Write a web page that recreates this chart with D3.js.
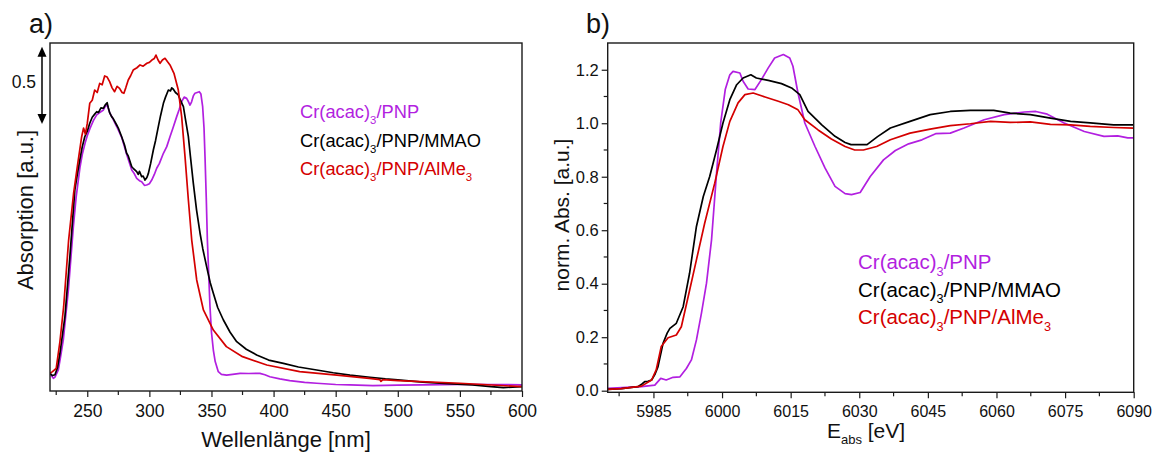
<!DOCTYPE html>
<html><head><meta charset="utf-8">
<script src="https://cdn.jsdelivr.net/npm/d3@7"></script>
<style>
html,body{margin:0;padding:0;background:#fff;}
svg text{font-family:"Liberation Sans",Arial,sans-serif;}
</style></head>
<body><svg id="c" width="1153" height="452"></svg>
<script>
// ---------- Panel a: UV-Vis ----------
const uvXTicks = [250,300,350,400,450,500,550,600];
const uvPNP = [[220,0.114],[221.5,0.095],[222.7,0.082],[224,0.09],[226.7,0.136],[228.5,0.22],[230.7,0.33],[234.8,0.653],[238.8,1.062],[241,1.25],[244.2,1.450],[246,1.53],[248.2,1.601],[250,1.65],[252.2,1.698],[255,1.75],[257.6,1.785],[260,1.80],[263,1.817],[264.5,1.84],[266,1.85],[268,1.80],[270,1.77],[273.7,1.71],[277.7,1.64],[281.7,1.53],[285.8,1.429],[287.5,1.41],[289.8,1.375],[292,1.36],[293.8,1.353],[296,1.33],[297.8,1.332],[300,1.34],[301.9,1.364],[304,1.40],[305.9,1.440],[308,1.47],[311.3,1.537],[314,1.58],[316.6,1.644],[319,1.70],[322,1.774],[324,1.82],[326,1.871],[328,1.90],[330,1.892],[331.5,1.87],[332.7,1.849],[334,1.87],[335.5,1.91],[336.7,1.925],[338.5,1.93],[340.2,1.935],[341.5,1.92],[342.9,1.838],[344,1.70],[344.8,1.515],[345.8,1.25],[346.7,0.976],[347.8,0.75],[348.8,0.545],[350,0.38],[351.5,0.265],[353,0.19],[355.5,0.125],[358,0.108],[362.2,0.103],[367,0.108],[373,0.114],[380,0.113],[389,0.114],[393,0.105],[397,0.092],[405,0.078],[413,0.067],[425,0.056],[434.7,0.050],[450,0.042],[461.5,0.039],[480,0.035],[500,0.038],[520,0.040],[550,0.043],[575,0.042],[600,0.040]];
const uvMMAO = [[220,0.114],[222,0.10],[224,0.105],[226,0.15],[228,0.244],[232,0.48],[236,0.868],[240,1.30],[242,1.40],[244,1.494],[246,1.58],[248,1.644],[250,1.68],[252,1.731],[254,1.77],[256,1.79],[257.6,1.806],[259,1.80],[261,1.83],[263,1.828],[264.5,1.85],[266,1.864],[267,1.83],[268,1.80],[269.6,1.774],[271,1.76],[273.7,1.72],[275,1.70],[277.7,1.644],[280,1.59],[281.7,1.537],[283,1.52],[285.8,1.45],[287,1.44],[289.8,1.418],[291,1.40],[292,1.42],[293.8,1.386],[295,1.39],[296.5,1.364],[298,1.38],[299.2,1.407],[301,1.47],[303.2,1.558],[305,1.62],[307.2,1.709],[309,1.78],[311.3,1.860],[313,1.90],[315.3,1.946],[317,1.94],[318,1.96],[319.3,1.951],[321,1.93],[323.3,1.914],[325,1.88],[327.4,1.838],[329,1.76],[331.4,1.644],[333,1.52],[335.4,1.343],[338,1.17],[340.8,1.020],[343,0.92],[346.1,0.804],[349,0.70],[351.5,0.632],[355,0.54],[359.6,0.459],[365,0.38],[370.3,0.319],[378,0.27],[386.4,0.233],[396,0.20],[407.9,0.179],[420,0.155],[434.7,0.136],[448,0.118],[461.5,0.103],[477.6,0.089],[490,0.078],[500,0.072],[520,0.058],[540,0.048],[560,0.040],[575,0.028],[585,0.022],[600,0.028]];
const uvAlMe3 = [[220,0.114],[222,0.125],[225,0.147],[228,0.32],[231,0.545],[235,0.976],[239,1.278],[242,1.45],[245.5,1.644],[247,1.70],[248.5,1.66],[250,1.73],[252,1.86],[254,1.88],[256,1.946],[258,1.93],[260,1.989],[262,1.98],[264,2.037],[266,2.03],[268,2.00],[270,1.96],[272,1.935],[274,1.97],[276,1.957],[278,1.93],[279.5,1.925],[281,1.96],[283,2.011],[285,2.04],[287,2.075],[290,2.09],[292.5,2.108],[295,2.10],[298,2.119],[300,2.125],[302,2.14],[304,2.15],[305.3,2.172],[307,2.14],[308.6,2.119],[310.5,2.14],[312.6,2.151],[314.5,2.13],[316.6,2.108],[319.8,2.054],[323.3,1.946],[326,1.774],[328.7,1.515],[331.4,1.235],[334.1,0.976],[338.1,0.718],[343.5,0.524],[351.5,0.394],[362,0.287],[375,0.222],[394.5,0.168],[421,0.125],[451,0.103],[477,0.082],[485.5,0.074],[486.5,0.062],[488,0.073],[500,0.067],[550,0.050],[600,0.028]];

// ---------- Panel b: XANES ----------
const xasXTicks = [5985,6000,6015,6030,6045,6060,6075,6090];
const xasYTicks = [0.0,0.2,0.4,0.6,0.8,1.0,1.2];
const xasPNP = [[5975,0.009],[5982.4,0.015],[5985.3,0.021],[5986.6,0.046],[5987.8,0.040],[5989.3,0.050],[5990.8,0.052],[5992.2,0.083],[5993.3,0.115],[5994.4,0.190],[5995.5,0.290],[5996.6,0.402],[5997.7,0.564],[5998.8,0.814],[5999.7,1.001],[6000.7,1.126],[6001.7,1.181],[6002.4,1.194],[6003.9,1.188],[6004.6,1.157],[6005.7,1.128],[6007.2,1.126],[6008.6,1.163],[6010.1,1.207],[6011.5,1.244],[6013.4,1.257],[6014.8,1.244],[6015.5,1.213],[6016.6,1.113],[6018.1,1.001],[6020.3,0.914],[6022.5,0.833],[6024.7,0.764],[6026.9,0.737],[6028.3,0.733],[6030.2,0.741],[6032.4,0.801],[6035.3,0.863],[6037.9,0.898],[6040.8,0.923],[6043.7,0.938],[6046.7,0.961],[6049.9,0.963],[6052.9,0.982],[6057.3,1.013],[6061.7,1.032],[6066.1,1.042],[6068.6,1.044],[6071.1,1.034],[6074.8,1.001],[6079.2,0.969],[6083.5,0.951],[6086.5,0.953],[6088.7,0.945],[6090,0.945]];
const xasMMAO = [[5975,0.005],[5978,0.008],[5981.6,0.015],[5982.5,0.025],[5983.1,0.034],[5983.8,0.035],[5984.6,0.040],[5985.3,0.06],[5986,0.090],[5987.1,0.177],[5988,0.215],[5988.6,0.233],[5990,0.252],[5991.5,0.314],[5992.9,0.439],[5994.4,0.614],[5995.9,0.726],[5997.3,0.801],[5998.8,0.901],[6000.2,1.001],[6001.7,1.088],[6003.2,1.144],[6004.6,1.169],[6006.3,1.181],[6007.5,1.169],[6010.1,1.160],[6013,1.148],[6015.2,1.132],[6017,1.107],[6018.8,1.044],[6021.8,0.994],[6024.7,0.951],[6026.9,0.928],[6028.2,0.920],[6031.7,0.920],[6034,0.95],[6036.8,0.982],[6041.1,1.007],[6045.5,1.032],[6049.9,1.044],[6054.3,1.048],[6059.4,1.048],[6063,1.038],[6067.4,1.032],[6071.8,1.019],[6076.2,1.007],[6080.5,1.001],[6085.6,0.994],[6090,0.994]];
const xasAlMe3 = [[5975,0.005],[5978,0.008],[5982.4,0.017],[5984.6,0.040],[5985.6,0.078],[5986.7,0.165],[5988.2,0.198],[5990,0.208],[5991.1,0.239],[5992.6,0.352],[5994.4,0.489],[5996.2,0.626],[5998.4,0.776],[6000.2,0.913],[6001.7,1.007],[6003.5,1.076],[6005,1.107],[6006.8,1.113],[6009.4,1.098],[6012.3,1.082],[6014.5,1.069],[6016.6,1.050],[6018.1,1.013],[6021,0.975],[6023.9,0.941],[6026.9,0.913],[6029,0.900],[6030.9,0.900],[6033.8,0.913],[6036.8,0.938],[6041.1,0.963],[6045.5,0.978],[6049.9,0.991],[6054.3,0.998],[6058.7,1.007],[6063,1.003],[6067.4,1.005],[6071.8,0.996],[6076.2,0.994],[6080.5,0.988],[6085.6,0.984],[6090,0.982]];

const legendNames = [["Cr(acac)","3","/PNP",""],["Cr(acac)","3","/PNP/MMAO",""],["Cr(acac)","3","/PNP/AlMe","3"]];
const colors = ["#b21fe0","#000000","#d40000"];

const svg = d3.select("#c");
const AX = "#1a1a1a";

function drawFrame(g, x0, x1, y0, y1){
  g.append("rect").attr("x",x0).attr("y",y0).attr("width",x1-x0).attr("height",y1-y0)
    .attr("fill","none").attr("stroke",AX).attr("stroke-width",1.4);
}
function addLegend(g, x, y, dy, fs){
  legendNames.forEach((n,i)=>{
    const t = g.append("text").attr("x",x).attr("y",y+i*dy).attr("fill",colors[i]).attr("font-size",fs);
    t.append("tspan").text(n[0]);
    t.append("tspan").attr("font-size",fs*0.62).attr("dy",fs*0.33).text(n[1]);
    t.append("tspan").attr("dy",-fs*0.33).text(n[2]);
    if(n[3]) t.append("tspan").attr("font-size",fs*0.62).attr("dy",fs*0.33).text(n[3]);
  });
}

// ---- Panel a ----
{
  const L=50,R=522,T=43,B=391;
  const x = d3.scaleLinear().domain([220,600]).range([L,R]);
  const y = d3.scaleLinear().domain([0,2.25]).range([B,T]);
  const g = svg.append("g");
  g.append("clipPath").attr("id","clipA").append("rect").attr("x",L).attr("y",T).attr("width",R-L).attr("height",B-T);
  const line = d3.line().x(d=>x(d[0])).y(d=>y(d[1]));
  [uvPNP,uvMMAO,uvAlMe3].forEach((s,i)=>{
    g.append("path").attr("d",line(s)).attr("fill","none").attr("stroke",colors[i])
      .attr("stroke-width",1.7).attr("stroke-linejoin","round").attr("clip-path","url(#clipA)");
  });
  drawFrame(g,L,R,T,B);
  const xa = g.append("g").attr("transform",`translate(0,${B})`)
    .call(d3.axisBottom(x).tickValues(uvXTicks).tickSize(6).tickFormat(d3.format("d")));
  xa.select(".domain").remove();
  xa.selectAll("line").attr("stroke",AX).attr("stroke-width",1.2);
  xa.selectAll("text").attr("font-size",17.5).attr("fill","#111").attr("dy",null).attr("y",26);
  const minor = d3.range(225,600,25).filter(v=>!uvXTicks.includes(v));
  g.selectAll(".mna").data(minor).enter().append("line")
    .attr("x1",d=>x(d)).attr("x2",d=>x(d)).attr("y1",B).attr("y2",B+4).attr("stroke",AX).attr("stroke-width",1.2);
  const ax0=42, ya=y(2.226), yb=y(1.726);
  g.append("line").attr("x1",ax0).attr("x2",ax0).attr("y1",ya+8).attr("y2",yb-8).attr("stroke","#000").attr("stroke-width",1.5);
  g.append("path").attr("d",`M${ax0},${ya} L${ax0-4.5},${ya+10} L${ax0+4.5},${ya+10} Z`).attr("fill","#000");
  g.append("path").attr("d",`M${ax0},${yb} L${ax0-4.5},${yb-10} L${ax0+4.5},${yb-10} Z`).attr("fill","#000");
  g.append("text").attr("x",36).attr("y",88).attr("text-anchor","end").attr("font-size",17.5).attr("fill","#111").text("0.5");
  g.append("text").attr("transform","translate(33,210) rotate(-90)").attr("text-anchor","middle")
    .attr("font-size",22).attr("fill","#111").text("Absorption [a.u.]");
  g.append("text").attr("x",(L+R)/2).attr("y",447).attr("text-anchor","middle")
    .attr("font-size",22).attr("fill","#111").text("Wellenlänge [nm]");
  g.append("text").attr("x",29).attr("y",33).attr("font-size",27).attr("fill","#111").text("a)");
  addLegend(g,300,118,28.5,18.3);
}

// ---- Panel b ----
{
  const L=607.7,R=1133.7,T=43,B=392.3;
  const x = d3.scaleLinear().domain([5975,6090]).range([L,R]);
  const y = d3.scaleLinear().domain([-0.006,1.3]).range([B,T]);
  const g = svg.append("g");
  g.append("clipPath").attr("id","clipB").append("rect").attr("x",L).attr("y",T).attr("width",R-L).attr("height",B-T);
  const line = d3.line().x(d=>x(d[0])).y(d=>y(d[1]));
  [xasPNP,xasMMAO,xasAlMe3].forEach((s,i)=>{
    g.append("path").attr("d",line(s)).attr("fill","none").attr("stroke",colors[i])
      .attr("stroke-width",1.7).attr("stroke-linejoin","round").attr("clip-path","url(#clipB)");
  });
  drawFrame(g,L,R,T,B);
  const xa = g.append("g").attr("transform",`translate(0,${B})`)
    .call(d3.axisBottom(x).tickValues(xasXTicks).tickSize(6).tickFormat(d3.format("d")));
  xa.select(".domain").remove();
  xa.selectAll("line").attr("stroke",AX).attr("stroke-width",1.2);
  xa.selectAll("text").attr("font-size",16).attr("fill","#111").attr("dy",null).attr("y",25);
  const minorX = d3.range(5977.5,6090,15);
  g.selectAll(".mnbx").data(minorX).enter().append("line")
    .attr("x1",d=>x(d)).attr("x2",d=>x(d)).attr("y1",B).attr("y2",B+4).attr("stroke",AX).attr("stroke-width",1.2);
  const ya = g.append("g").attr("transform",`translate(${L},0)`)
    .call(d3.axisLeft(y).tickValues(xasYTicks).tickSize(6).tickFormat(d3.format(".1f")));
  ya.select(".domain").remove();
  ya.selectAll("line").attr("stroke",AX).attr("stroke-width",1.2);
  ya.selectAll("text").attr("font-size",16.5).attr("fill","#111").attr("x",-9);
  const minorY = [0.1,0.3,0.5,0.7,0.9,1.1];
  g.selectAll(".mnby").data(minorY).enter().append("line")
    .attr("x1",L-4).attr("x2",L).attr("y1",d=>y(d)).attr("y2",d=>y(d)).attr("stroke",AX).attr("stroke-width",1.2);
  g.append("text").attr("transform","translate(569,215) rotate(-90)").attr("text-anchor","middle")
    .attr("font-size",21).attr("fill","#111").text("norm. Abs. [a.u.]");
  const xt = g.append("text").attr("x",866).attr("y",438).attr("text-anchor","middle").attr("font-size",21).attr("fill","#111");
  xt.append("tspan").text("E");
  xt.append("tspan").attr("font-size",13).attr("dy",6).text("abs");
  xt.append("tspan").attr("dy",-6).text(" [eV]");
  g.append("text").attr("x",586).attr("y",33).attr("font-size",27).attr("fill","#111").text("b)");
  addLegend(g,858,269,27.5,20.5);
}
</script></body></html>
